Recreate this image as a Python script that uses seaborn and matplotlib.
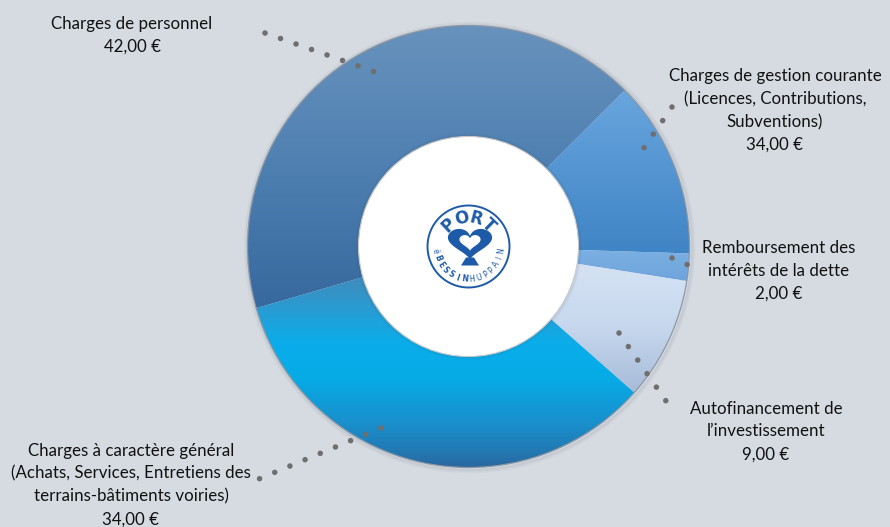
import numpy as np
import matplotlib
matplotlib.use("Agg")
import matplotlib.pyplot as plt
import seaborn as sns
from matplotlib.patches import Circle, Polygon
from matplotlib.colors import to_rgb

# ---------------- data ----------------
categories = [
    "Charges de personnel",
    "Charges de gestion courante\n(Licences, Contributions,\nSubventions)",
    "Remboursement des\nintérêts de la dette",
    "Autofinancement de\nl’investissement",
    "Charges à caractère général\n(Achats, Services, Entretiens des\nterrains-bâtiments voiries)",
]
shares = [42, 13, 2, 9, 34]           # slice sizes as drawn (%)
amount_labels = ["42,00 €", "34,00 €", "2,00 €", "9,00 €", "34,00 €"]

# vertical gradient stops per slice (fraction of pie height from top, colour)
gradients = [
    [(0.00, "#6892bd"), (0.30, "#5081b2"), (0.66, "#35679d")],
    [(0.14, "#69a6de"), (0.52, "#3f84c5")],
    [(0.50, "#7db1e4"), (0.60, "#6aa1d9")],
    [(0.50, "#d9e5f5"), (0.68, "#c7d8ee"), (0.84, "#a6bad7")],
    [(0.55, "#4687b6"), (0.64, "#2a9bd2"), (0.72, "#0aadea"), (0.80, "#06abe6"),
     (0.90, "#1990cd"), (0.97, "#2377b0"), (1.00, "#2a67a0")],
]

# ---------------- layout (pixel coordinates, y up) ----------------
W, H = 890, 527
BG = "#d6dbe2"
cx, cy = 468.5, H - 246.5
R = 221
hole_r = 110

label_pos = [(132, H - 35), (775, H - 110.5), (779, H - 271), (766, H - 431.5), (131, H - 485)]
leaders = [((265, 33), (378, 73)),
           ((672, 107), (637, 158)),
           ((672, 258), (695, 268)),
           ((619, 333), (675, 414)),
           ((381, 428), (254, 481))]

sns.set_theme(style="white")
plt.rcParams["font.family"] = ["Lato", "DejaVu Sans"]

fig = plt.figure(figsize=(W / 100, H / 100), dpi=100, facecolor=BG)
ax = fig.add_axes([0, 0, 1, 1])
ax.set_facecolor(BG)

# soft shadow around the pie
for i, a in enumerate([0.10, 0.07, 0.05, 0.03]):
    ax.add_patch(Circle((cx + 1, cy - 1), R + 1 + i, facecolor="none",
                        edgecolor="#5a6470", lw=1.2, alpha=a, zorder=1))

wedges, _ = ax.pie(shares, startangle=196.2, counterclock=False, radius=R,
                   center=(cx, cy), frame=True,
                   wedgeprops=dict(width=R - hole_r + 4, linewidth=0, facecolor="none"))

ys = np.linspace(0, 1, 400)
for wdg, stops in zip(wedges, gradients):
    fr = [s[0] for s in stops]
    cols = np.array([to_rgb(s[1]) for s in stops])
    img = np.stack([np.interp(ys, fr, cols[:, k]) for k in range(3)], axis=1)[:, None, :]
    im = ax.imshow(img, extent=(cx - R, cx + R, cy - R, cy + R), origin="upper",
                   aspect="auto", zorder=2, interpolation="bilinear")
    im.set_clip_path(wdg)

ax.add_patch(Circle((cx, cy), R, facecolor="none", edgecolor="#8d97a3", lw=0.9, zorder=3))

# inner white disc with soft edge
for i, a in enumerate([0.10, 0.06, 0.03]):
    ax.add_patch(Circle((cx, cy), hole_r + 1 + i, facecolor="none",
                        edgecolor="#4a5a6a", lw=1.0, alpha=a, zorder=4))
ax.add_patch(Circle((cx, cy), hole_r, facecolor="white", edgecolor="#c9c9c9",
                    lw=0.8, zorder=5))

# ---------------- logo ----------------
LB = "#1d5ba8"
ax.add_patch(Circle((cx, cy), 41, facecolor="white", edgecolor=LB, lw=1.4, zorder=6))
t = np.linspace(0, 2 * np.pi, 300)
hx = 16 * np.sin(t) ** 3
hy = 13 * np.cos(t) - 5 * np.cos(2 * t) - 2 * np.cos(3 * t) - np.cos(4 * t)
hcx, hcy = cx + 1.5, cy + 2
ax.add_patch(Polygon(np.c_[hcx + hx * 1.38, hcy + (hy + 2.5) * 1.08], closed=True,
                     facecolor=LB, edgecolor="none", zorder=7))
ax.add_patch(Polygon(np.c_[hcx + hx * 0.66, hcy + 1.5 + (hy + 2.5) * 0.55], closed=True,
                     facecolor="white", edgecolor="none", zorder=8))
ax.add_patch(Polygon([(hcx - 9, cy - 19), (hcx + 9, cy - 19), (hcx + 4, cy - 11), (hcx - 4, cy - 11)],
                     closed=True, facecolor=LB, edgecolor="none", zorder=7))

for ch, ang in zip("PORT", [133, 104, 75, 46]):
    th = np.deg2rad(ang)
    ax.text(cx + 29 * np.cos(th), cy + 29 * np.sin(th), ch, rotation=ang - 90,
            ha="center", va="center", fontsize=12, fontweight="bold", color=LB,
            family=["DejaVu Sans"], zorder=9)

bottom = list("ëBESSINHUPPAIN")
angs = np.linspace(188, 352, len(bottom))
for i, (ch, ang) in enumerate(zip(bottom, angs)):
    th = np.deg2rad(ang)
    ax.text(cx + 33 * np.cos(th), cy + 33 * np.sin(th), ch, rotation=ang + 90,
            ha="center", va="center", fontsize=5.5,
            fontweight="bold" if 1 <= i <= 6 else "normal", color=LB,
            family=["DejaVu Sans"], zorder=9)

# ---------------- leader lines & labels ----------------
for (p0, p1) in leaders:
    ax.plot([p0[0], p1[0]], [H - p0[1], H - p1[1]], color="#6f6f6f", lw=4.0,
            linestyle=(0, (0.01, 2.95)), dash_capstyle="round", zorder=10)

for cat, amt, (lx, ly) in zip(categories, amount_labels, label_pos):
    ax.text(lx, ly, cat + "\n" + amt, ha="center", va="center", fontsize=12.2,
            color="#111111", linespacing=1.52, zorder=11)

ax.set_xlim(0, W)
ax.set_ylim(0, H)
ax.set_aspect("equal")
ax.axis("off")
fig.savefig("out.png", dpi=100, facecolor=BG)
